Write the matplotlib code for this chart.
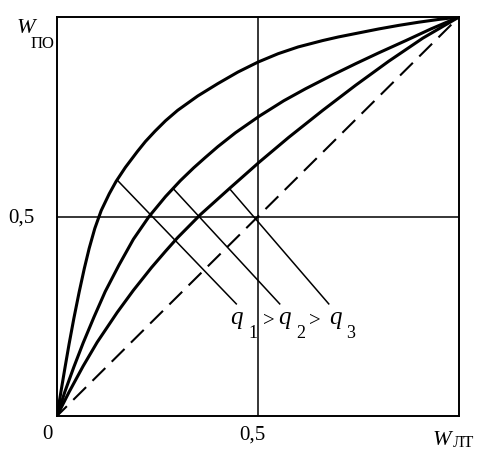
import matplotlib
matplotlib.use('Agg')
import matplotlib.pyplot as plt

plt.rcParams['font.family'] = ['Liberation Serif', 'DejaVu Serif']
plt.rcParams['lines.scale_dashes'] = False

# Curves W_PO(W_LT)
curve1_x = [0, 0.01, 0.02, 0.03, 0.042, 0.055, 0.068, 0.08, 0.094, 0.11, 0.13, 0.147,
            0.17, 0.20, 0.22, 0.244, 0.27, 0.30, 0.35, 0.40, 0.45, 0.50, 0.55, 0.60,
            0.661, 0.70, 0.75, 0.80, 0.85, 0.90, 0.95, 1.0]
curve1_y = [0, 0.062, 0.122, 0.18, 0.245, 0.31, 0.37, 0.42, 0.47, 0.515, 0.557, 0.588,
            0.623, 0.663, 0.688, 0.714, 0.74, 0.766, 0.802, 0.833, 0.862, 0.887, 0.908, 0.925,
            0.941, 0.950, 0.960, 0.970, 0.979, 0.987, 0.994, 1.0]

curve2_x = [0, 0.02, 0.042, 0.065, 0.092, 0.12, 0.154, 0.19, 0.229, 0.27, 0.307, 0.34,
            0.369, 0.40, 0.444, 0.504, 0.564, 0.618, 0.68, 0.743, 0.80, 0.868, 0.93, 1.0]
curve2_y = [0, 0.062, 0.123, 0.183, 0.248, 0.312, 0.378, 0.443, 0.50, 0.55, 0.59, 0.622,
            0.648, 0.675, 0.71, 0.752, 0.79, 0.82, 0.852, 0.883, 0.91, 0.941, 0.97, 1.0]

curve3_x = [0, 0.03, 0.065, 0.10, 0.15, 0.19, 0.235, 0.27, 0.30, 0.357, 0.431, 0.504,
            0.576, 0.661, 0.743, 0.825, 0.91, 1.0]
curve3_y = [0, 0.06, 0.125, 0.185, 0.26, 0.315, 0.372, 0.413, 0.447, 0.505, 0.572, 0.637,
            0.698, 0.766, 0.829, 0.889, 0.947, 1.0]

diag_x = [0, 1]
diag_y = [0, 1]

# q lines (start on curve, end near label)
q_start_x = [0.150, 0.289, 0.429]
q_start_y = [0.591, 0.570, 0.570]
q_end_x = [0.446, 0.554, 0.676]
q_end_y = [0.281, 0.281, 0.281]

fig = plt.figure(figsize=(4.91, 4.57), dpi=100)
ax = fig.add_axes([57 / 491, 41 / 457, 402 / 491, 399 / 457])
ax.set_xlim(0, 1)
ax.set_ylim(0, 1)
ax.set_xticks([])
ax.set_yticks([])
for s in ax.spines.values():
    s.set_linewidth(1.4)

ax.axhline(0.5, color='black', lw=1.1)
ax.axvline(0.5, color='black', lw=1.1)

for cx, cy in [(curve1_x, curve1_y), (curve2_x, curve2_y), (curve3_x, curve3_y)]:
    ax.plot(cx, cy, color='black', lw=2.2, solid_joinstyle='round')

ax.plot(diag_x, diag_y, color='black', lw=1.5, linestyle=(3, (13, 6.5)))

for x0, y0, x1, y1 in zip(q_start_x, q_start_y, q_end_x, q_end_y):
    ax.plot([x0, x1], [y0, y1], color='black', lw=1.1)

# label q1 > q2 > q3
kw = dict(ha='left', va='baseline', clip_on=False)
ax.text(0.431, 0.231, 'q', fontsize=18, style='italic', **kw)
ax.text(0.476, 0.195, '1', fontsize=13, **kw)
ax.text(0.512, 0.225, '>', fontsize=15, **kw)
ax.text(0.551, 0.231, 'q', fontsize=18, style='italic', **kw)
ax.text(0.594, 0.195, '2', fontsize=13, **kw)
ax.text(0.626, 0.225, '>', fontsize=15, **kw)
ax.text(0.676, 0.231, 'q', fontsize=18, style='italic', **kw)
ax.text(0.718, 0.195, '3', fontsize=13, **kw)

# axis labels and ticks
ax.text(-0.055, 0.497, '0,5', fontsize=15, ha='right', va='center', clip_on=False)
ax.text(-0.025, -0.058, '0', fontsize=15, ha='center', va='baseline', clip_on=False)
ax.text(0.486, -0.060, '0,5', fontsize=15, ha='center', va='baseline', clip_on=False)

ax.text(-0.10, 0.960, 'W', fontsize=16, style='italic', **kw)
ax.text(-0.067, 0.922, 'ПО', fontsize=12, **kw)
ax.text(0.935, -0.073, 'W', fontsize=16, style='italic', **kw)
ax.text(0.985, -0.078, 'ЛТ', fontsize=12, **kw)

fig.savefig('out.png', dpi=100)
